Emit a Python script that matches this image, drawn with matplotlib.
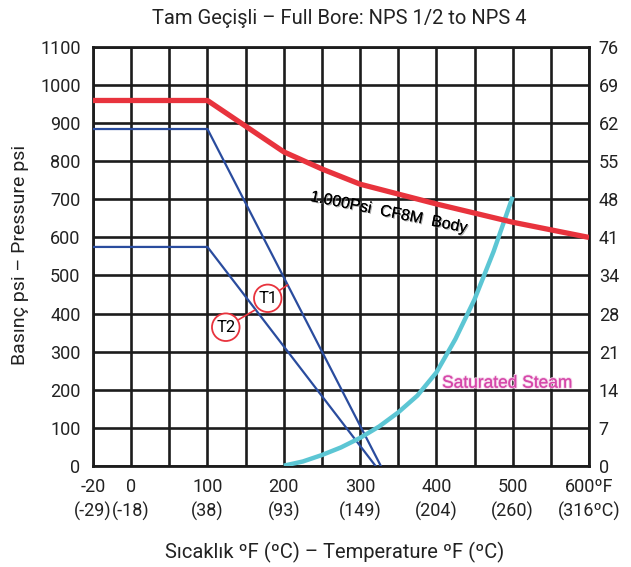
import numpy as np
import matplotlib
matplotlib.use("Agg")
import matplotlib.pyplot as plt
import matplotlib.patheffects as pe

plt.rcParams['font.family'] = ['Roboto', 'DejaVu Sans']

# axis ticks
temp_ticks = [-20, 0, 100, 200, 300, 400, 500, 600]
temp_labels = ["-20\n(-29)", "0\n(-18)", "100\n(38)", "200\n(93)", "300\n(149)",
               "400\n(204)", "500\n(260)", "600ºF\n(316ºC)"]
temp_grid = [50, 150, 250, 350, 450, 550]
psi_ticks = [0, 100, 200, 300, 400, 500, 600, 700, 800, 900, 1000, 1100]
bar_labels = ["0", "7", "14", "21", "28", "34", "41", "48", "55", "62", "69", "76"]

# body rating (CF8M)
body_t = [-20, 100, 200, 250, 300, 400, 500, 600]
body_p = [960, 960, 825, 780, 740, 688, 640, 600]

# seat ratings
t1_t = [-20, 100, 327]
t1_p = [885, 885, 0]
t2_t = [-20, 100, 320]
t2_p = [575, 575, 0]

# saturated steam
steam_t = [200, 225, 250, 275, 300, 325, 350, 375, 400, 425, 450, 475, 500]
steam_p = [0, 11, 28, 48, 73, 103, 140, 184, 245, 333, 437, 563, 707]


def fwd(x):
    x = np.asarray(x, dtype=float)
    return np.where(x < 0, x * 2.5, x)


def inv(x):
    x = np.asarray(x, dtype=float)
    return np.where(x < 0, x / 2.5, x)


fig = plt.figure(figsize=(6.31, 5.67), dpi=100)
ax = fig.add_axes([0.1474, 0.1787, 0.786, 0.738])
ax.set_xscale('function', functions=(fwd, inv))
ax.set_xlim(-20, 600)
ax.set_ylim(0, 1100)

ax.set_xticks(temp_ticks, temp_labels)
ax.set_xticks(temp_grid, minor=True)
ax.set_yticks(psi_ticks)
ax.grid(True, which='both', color='#1c1c1c', lw=1.9)
ax.set_axisbelow(True)
ax.tick_params(which='both', length=0, labelsize=13, labelcolor='#222222')
ax.tick_params(axis='x', pad=9)
ax.tick_params(axis='y', pad=9)
for lbl in ax.get_xticklabels():
    lbl.set_linespacing(1.35)
for s in ax.spines.values():
    s.set_linewidth(2)
    s.set_color('#1c1c1c')

ax2 = ax.twinx()
ax2.set_ylim(0, 1100)
ax2.set_yticks(psi_ticks, bar_labels)
ax2.tick_params(length=0, labelsize=13, pad=7, labelcolor='#222222')
for s in ax2.spines.values():
    s.set_visible(False)

ax.plot(t1_t, t1_p, color='#2a4c9e', lw=1.6, zorder=3)
ax.plot(t2_t, t2_p, color='#2a4c9e', lw=1.6, zorder=3)
ax.plot(steam_t, steam_p, color='#5cc6d4', lw=3.2, zorder=4, solid_capstyle='butt')
ax.plot(body_t, body_p, color='#e8333d', lw=3.8, zorder=5, solid_capstyle='butt')

ax.text(338, 666, "1.000Psi  CF8M  Body", rotation=-11.5, ha='center', va='center',
        fontsize=11.5, family=['Liberation Sans', 'DejaVu Sans'], color='black',
        path_effects=[pe.withSimplePatchShadow(offset=(0.8, -0.8), shadow_rgbFace='#888888',
                                               alpha=0.7), pe.Normal()], zorder=6)
ax.text(493, 217, "Saturated Steam", ha='center', va='center', fontsize=12.5,
        family=['Liberation Sans', 'DejaVu Sans'], color='#d648aa',
        path_effects=[pe.withStroke(linewidth=1.5, foreground='#f5d3ea'), pe.Normal()], zorder=6)

circ = dict(boxstyle='circle,pad=0.25', fc='white', ec='#e8333d', lw=1.3)
ax.annotate("T1", xy=(205, 475), xytext=(179, 440), fontsize=12, ha='center', va='center',
            bbox=circ, arrowprops=dict(arrowstyle='-', color='#e8333d', lw=1.2,
                                       shrinkA=0, shrinkB=0), zorder=7)
ax.annotate("T2", xy=(162, 409), xytext=(124, 364), fontsize=12, ha='center', va='center',
            bbox=circ, arrowprops=dict(arrowstyle='-', color='#e8333d', lw=1.2,
                                       shrinkA=0, shrinkB=0), zorder=7)

fig.text(0.537, 0.968, "Tam Geçişli – Full Bore: NPS 1/2 to NPS 4", ha='center', va='center',
         fontsize=14.5, color='#222222')
fig.text(0.531, 0.025, "Sıcaklık ºF (ºC) – Temperature ºF (ºC)", ha='center', va='center',
         fontsize=14.5, color='#222222')
fig.text(0.032, 0.55, "Basınç psi – Pressure psi", ha='center', va='center', rotation=90,
         fontsize=14, color='#222222')

fig.savefig("out.png", dpi=100)
